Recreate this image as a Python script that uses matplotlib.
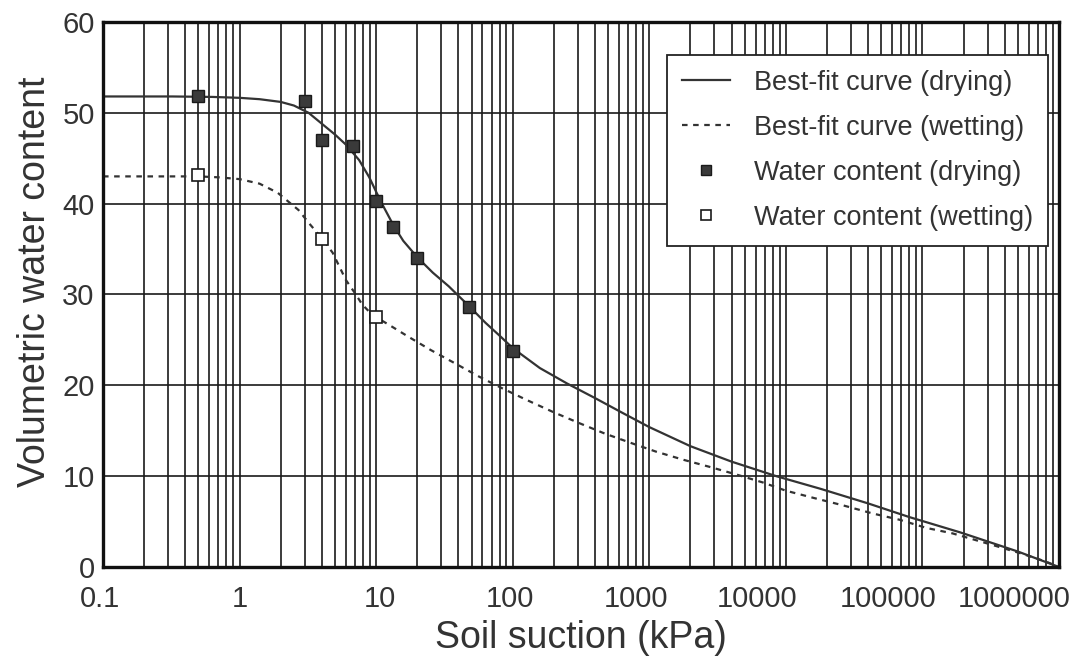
import matplotlib
matplotlib.use("Agg")
import matplotlib.pyplot as plt
from matplotlib.ticker import FixedLocator, NullFormatter
from matplotlib.transforms import ScaledTranslation

plt.rcParams['font.family'] = ['Liberation Sans', 'DejaVu Sans']

# Measured water content (drying / wetting)
suction_drying = [0.5, 3, 4, 6.8, 10, 13.2, 20, 48, 100]
water_drying = [51.8, 51.3, 47.0, 46.3, 40.3, 37.4, 34.0, 28.6, 23.8]
suction_wetting = [0.5, 4, 10]
water_wetting = [43.1, 36.1, 27.5]

# Best-fit curves
fit_drying_x = [0.1, 0.32, 0.63, 1.0, 1.4, 2.0, 2.5, 3.2, 4.0, 5.0, 6.0, 7.5, 8.9, 10, 11.2,
                13.4, 15.8, 20, 26, 34, 48, 63, 81, 100, 158, 250, 400, 630, 1000,
                2000, 4000, 8500, 18000, 40000, 80000, 190000, 500000, 1000000]
fit_drying_y = [51.8, 51.8, 51.75, 51.65, 51.5, 51.2, 50.8, 50.0, 48.8, 47.6, 46.5, 44.8, 42.9, 41.3, 39.8,
                37.6, 35.9, 34.1, 32.4, 30.9, 28.7, 26.9, 25.4, 24.1, 21.9, 20.2, 18.6, 17.0, 15.4,
                13.3, 11.6, 10.0, 8.6, 7.0, 5.5, 3.8, 1.7, 0.0]
fit_wetting_x = [0.1, 0.32, 0.5, 0.7, 1.0, 1.4, 1.9, 2.7, 3.2, 4.0, 4.8, 6.0, 7.1, 7.9, 8.9, 10,
                 12.6, 17, 25, 38, 56, 83, 126, 195, 300, 470, 720, 1120, 1780, 2800,
                 4300, 6800, 10000, 16000, 26000, 43000, 68000, 107000, 166000, 330000,
                 525000, 800000, 1000000]
fit_wetting_y = [43.0, 43.0, 43.0, 42.9, 42.7, 42.2, 41.2, 39.3, 37.9, 36.2, 34.6, 31.6, 30.0, 28.9, 28.1, 27.5,
                 26.6, 25.4, 23.9, 22.4, 21.0, 19.7, 18.4, 17.1, 15.9, 14.7, 13.7, 12.7, 11.8, 11.0,
                 10.2, 9.3, 8.4, 7.6, 6.8, 5.9, 5.2, 4.3, 3.7, 2.4,
                 1.5, 0.6, 0.0]

x_ticks = [0.1, 1, 10, 100, 1000, 10000, 100000, 1000000]
x_tick_labels = ['0.1', '1', '10', '100', '1000', '10000', '100000', '1000000']
y_ticks = [0, 10, 20, 30, 40, 50, 60]

ink = '#333333'

fig = plt.figure(figsize=(10.89, 6.62), dpi=100)
ax = fig.add_axes([0.0946, 0.1435, 0.8779, 0.8233])
ax.set_xscale('log')
ax.set_xlim(0.1, 1e6)
ax.set_ylim(0, 60)

# grid: every log subdivision vertically, every 10 horizontally
minors = [m * d for d in x_ticks[:-1] for m in range(2, 10)]
ax.xaxis.set_major_locator(FixedLocator(x_ticks))
ax.xaxis.set_minor_locator(FixedLocator(minors))
ax.xaxis.set_minor_formatter(NullFormatter())
ax.set_xticklabels(x_tick_labels)
ax.set_yticks(y_ticks)
ax.grid(True, which='both', axis='x', color='#1a1a1a', lw=1.2)
ax.grid(True, which='major', axis='y', color='#1a1a1a', lw=1.2)
ax.set_axisbelow(True)

ax.plot(fit_drying_x, fit_drying_y, '-', color=ink, lw=1.6, label='Best-fit curve (drying)', zorder=3)
ax.plot(fit_wetting_x, fit_wetting_y, color=ink, lw=1.6, ls=(0, (2.5, 2.5)),
        label='Best-fit curve (wetting)', zorder=3)
ax.plot(suction_drying, water_drying, 's', ms=8.5, mfc='#3a3a3a', mec='#1a1a1a', mew=1.0,
        label='Water content (drying)', zorder=4)
ax.plot(suction_wetting, water_wetting, 's', ms=8.5, mfc='white', mec='#1a1a1a', mew=1.2,
        label='Water content (wetting)', zorder=4)

ax.tick_params(which='both', length=0, labelsize=21, labelcolor=ink)
ax.tick_params(axis='x', pad=13)
ax.tick_params(axis='y', pad=6)

# labels in the original sit slightly off the decade lines
shifts_px = [-3, 0, 4, -3, -13, -29, -34, -45]
for lab, dx in zip(ax.get_xticklabels(), shifts_px):
    lab.set_transform(lab.get_transform() + ScaledTranslation(dx / 100, 0, fig.dpi_scale_trans))

for s in ax.spines.values():
    s.set_linewidth(2.4)
    s.set_color('#111111')
    s.set_zorder(5)

ax.set_xlabel('Soil suction (kPa)', fontsize=27, color=ink, labelpad=5)
ax.set_ylabel('Volumetric water content', fontsize=27, color=ink)
ax.yaxis.set_label_coords(-0.052, 0.523)

leg = ax.legend(loc='upper right', bbox_to_anchor=(0.9885, 0.9394), borderaxespad=0,
                fontsize=19.5, frameon=True, fancybox=False, framealpha=1, edgecolor='#222222',
                handlelength=1.75, handletextpad=0.9, labelspacing=0.7, borderpad=0.55,
                numpoints=1, markerscale=0.85)
leg.get_frame().set_linewidth(1.3)
for t in leg.get_texts():
    t.set_color(ink)
leg.set_zorder(6)

fig.savefig('out.png', dpi=100)
